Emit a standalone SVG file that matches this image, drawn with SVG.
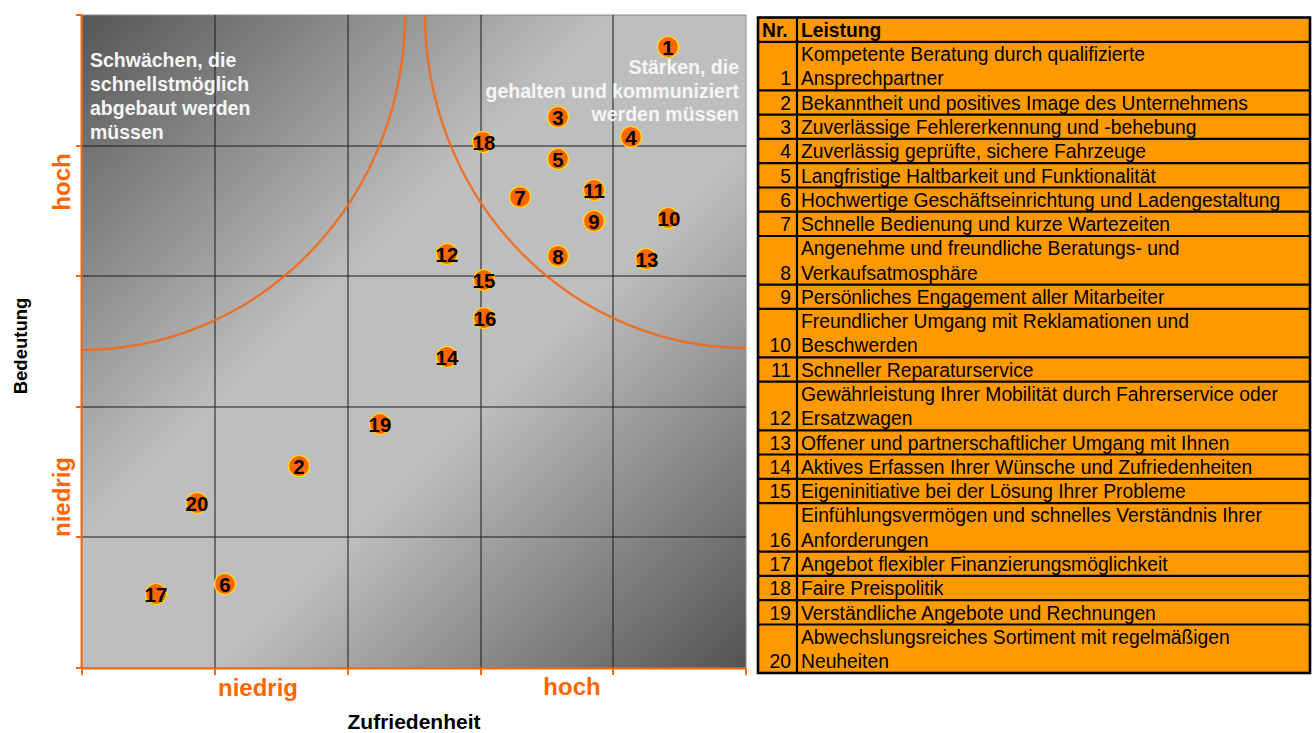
<svg xmlns="http://www.w3.org/2000/svg" width="1313" height="733" viewBox="0 0 1313 733">
<defs>
<linearGradient id="bg" x1="0" y1="0" x2="1" y2="1">
<stop offset="0" stop-color="#565656"/>
<stop offset="0.4" stop-color="#bebebe"/>
<stop offset="0.6" stop-color="#bebebe"/>
<stop offset="1" stop-color="#535353"/>
</linearGradient>
<style>
.grid{stroke:#1a1a1a;stroke-width:1;fill:none}
.axis{stroke:#ff6600;stroke-width:2;fill:none}
.curve{stroke:#f26a1b;stroke-width:2.4;fill:none;opacity:0.9}
.mk circle{fill:#ff6600;stroke:#ffe000;stroke-width:1.2}
.mk text{font-family:"Liberation Sans",Arial,sans-serif;font-weight:bold;font-size:20.5px;fill:#000;text-anchor:middle}
.ql{font-family:"Liberation Sans",Arial,sans-serif;font-weight:bold;font-size:19.5px;fill:#f5f5f5}
.al{font-family:"Liberation Sans",Arial,sans-serif;font-weight:bold;font-size:24px;fill:#ff6600;text-anchor:middle}
.tt{font-family:"Liberation Sans",Arial,sans-serif;font-weight:bold;font-size:18.5px;fill:#000;text-anchor:middle}
.tl{stroke:#000;stroke-width:2.2;fill:none}
.nr{font-family:"Liberation Sans",Arial,sans-serif;font-size:19.3px;fill:#000;text-anchor:end}
.lt{font-family:"Liberation Sans",Arial,sans-serif;font-size:19.3px;fill:#000}
.hd{font-weight:bold}
</style>
</defs>
<rect width="1313" height="733" fill="#ffffff"/>

<g id="plot">
<rect x="82" y="15" width="664" height="653" fill="url(#bg)" stroke="#8a8a8a" stroke-width="1"/>
<g class="grid">
<line x1="215" y1="15" x2="215" y2="668"/>
<line x1="348" y1="15" x2="348" y2="668"/>
<line x1="481" y1="15" x2="481" y2="668"/>
<line x1="613" y1="15" x2="613" y2="668"/>
<line x1="82" y1="146" x2="746" y2="146"/>
<line x1="82" y1="276" x2="746" y2="276"/>
<line x1="82" y1="407" x2="746" y2="407"/>
<line x1="82" y1="537" x2="746" y2="537"/>
</g>
<g class="axis">
<line x1="81.5" y1="15" x2="81.5" y2="669"/>
<line x1="81" y1="668.5" x2="746" y2="668.5"/>
<path d="M76 15H82M76 146H82M76 276H82M76 407H82M76 537H82M76 668H82"/>
<path d="M82 668V675M215 668V675M348 668V675M481 668V675M613 668V675M746 668V675"/>
</g>
</g>

<g id="boundary-curves">
<path class="curve" d="M405 15 A323 335 0 0 1 82 350"/>
<path class="curve" d="M425 15 A321 333 0 0 0 746 348"/>
</g>

<g id="quadrant-labels">
<text class="ql" x="90" y="67">Schwächen, die</text>
<text class="ql" x="90" y="91">schnellstmöglich</text>
<text class="ql" x="90" y="115">abgebaut werden</text>
<text class="ql" x="90" y="139">müssen</text>
<text class="ql" x="739" y="74" text-anchor="end">Stärken, die</text>
<text class="ql" x="739" y="97.5" text-anchor="end">gehalten und kommuniziert</text>
<text class="ql" x="739" y="121" text-anchor="end">werden müssen</text>
</g>

<g id="axis-labels">
<text class="al" x="70" y="182" transform="rotate(-90 70 182)">hoch</text>
<text class="al" x="70" y="497" transform="rotate(-90 70 497)">niedrig</text>
<text class="al" x="258" y="696">niedrig</text>
<text class="al" x="572" y="695">hoch</text>
<text class="tt" x="414" y="729" style="font-size:21px">Zufriedenheit</text>
<text class="tt" x="27" y="346" transform="rotate(-90 27 346)">Bedeutung</text>
</g>

<g id="markers">
<g id="m1" class="mk"><circle cx="668" cy="47" r="10.5"/><text x="668" y="54.5">1</text></g>
<g id="m2" class="mk"><circle cx="299" cy="466" r="10.5"/><text x="299" y="473.5">2</text></g>
<g id="m3" class="mk"><circle cx="558" cy="117" r="10.5"/><text x="558" y="124.5">3</text></g>
<g id="m4" class="mk"><circle cx="631" cy="137" r="10.5"/><text x="631" y="144.5">4</text></g>
<g id="m5" class="mk"><circle cx="558" cy="159" r="10.5"/><text x="558" y="166.5">5</text></g>
<g id="m6" class="mk"><circle cx="225" cy="584" r="10.5"/><text x="225" y="591.5">6</text></g>
<g id="m7" class="mk"><circle cx="520" cy="197" r="10.5"/><text x="520" y="204.5">7</text></g>
<g id="m8" class="mk"><circle cx="558" cy="256" r="10.5"/><text x="558" y="263.5">8</text></g>
<g id="m9" class="mk"><circle cx="594" cy="221" r="10.5"/><text x="594" y="228.5">9</text></g>
<g id="m10" class="mk"><circle cx="668" cy="218" r="10.5"/><text x="669" y="225.5">10</text></g>
<g id="m11" class="mk"><circle cx="594" cy="190" r="10.5"/><text x="594" y="197.5">11</text></g>
<g id="m12" class="mk"><circle cx="447" cy="254" r="10.5"/><text x="447" y="261.5">12</text></g>
<g id="m13" class="mk"><circle cx="646" cy="259" r="10.5"/><text x="647" y="266.5">13</text></g>
<g id="m14" class="mk"><circle cx="447" cy="357" r="10.5"/><text x="447" y="364.5">14</text></g>
<g id="m15" class="mk"><circle cx="484" cy="280" r="10.5"/><text x="484" y="287.5">15</text></g>
<g id="m16" class="mk"><circle cx="484" cy="318" r="10.5"/><text x="485" y="325.5">16</text></g>
<g id="m17" class="mk"><circle cx="156" cy="594" r="10.5"/><text x="156" y="601.5">17</text></g>
<g id="m18" class="mk"><circle cx="483" cy="142" r="10.5"/><text x="484" y="149.5">18</text></g>
<g id="m19" class="mk"><circle cx="380" cy="424" r="10.5"/><text x="380" y="431.5">19</text></g>
<g id="m20" class="mk"><circle cx="197" cy="503" r="10.5"/><text x="197" y="510.5">20</text></g>
</g>

<g id="table">
<rect x="758" y="17.5" width="552" height="655.5" fill="#ff9900"/>
<g class="tl">
<path d="M758 41.8H1310M758 90.3H1310M758 114.6H1310M758 138.9H1310M758 163.2H1310M758 187.5H1310M758 211.7H1310M758 236H1310M758 284.6H1310M758 308.9H1310M758 357.4H1310M758 381.7H1310M758 430.3H1310M758 454.5H1310M758 478.8H1310M758 503.1H1310M758 551.7H1310M758 575.9H1310M758 600.2H1310M758 624.5H1310"/>
<line x1="797" y1="17.5" x2="797" y2="673"/>
<rect x="758" y="17.5" width="552" height="655.5" stroke-width="2.6"/>
</g>
<g id="row-header"><text class="lt hd" x="762" y="36.8">Nr.</text><text class="lt hd" x="801" y="36.8">Leistung</text></g>
<g id="row1"><text class="nr" x="791" y="85.3">1</text><text class="lt" x="801" y="61.1">Kompetente Beratung durch qualifizierte</text><text class="lt" x="801" y="85.3">Ansprechpartner</text></g>
<g id="row2"><text class="nr" x="791" y="109.6">2</text><text class="lt" x="801" y="109.6">Bekanntheit und positives Image des Unternehmens</text></g>
<g id="row3"><text class="nr" x="791" y="133.9">3</text><text class="lt" x="801" y="133.9">Zuverlässige Fehlererkennung und -behebung</text></g>
<g id="row4"><text class="nr" x="791" y="158.2">4</text><text class="lt" x="801" y="158.2">Zuverlässig geprüfte, sichere Fahrzeuge</text></g>
<g id="row5"><text class="nr" x="791" y="182.5">5</text><text class="lt" x="801" y="182.5">Langfristige Haltbarkeit und Funktionalität</text></g>
<g id="row6"><text class="nr" x="791" y="206.7">6</text><text class="lt" x="801" y="206.7">Hochwertige Geschäftseinrichtung und Ladengestaltung</text></g>
<g id="row7"><text class="nr" x="791" y="231">7</text><text class="lt" x="801" y="231">Schnelle Bedienung und kurze Wartezeiten</text></g>
<g id="row8"><text class="nr" x="791" y="279.6">8</text><text class="lt" x="801" y="255.3">Angenehme und freundliche Beratungs- und</text><text class="lt" x="801" y="279.6">Verkaufsatmosphäre</text></g>
<g id="row9"><text class="nr" x="791" y="303.9">9</text><text class="lt" x="801" y="303.9">Persönliches Engagement aller Mitarbeiter</text></g>
<g id="row10"><text class="nr" x="791" y="352.4">10</text><text class="lt" x="801" y="328.1">Freundlicher Umgang mit Reklamationen und</text><text class="lt" x="801" y="352.4">Beschwerden</text></g>
<g id="row11"><text class="nr" x="791" y="376.7">11</text><text class="lt" x="801" y="376.7">Schneller Reparaturservice</text></g>
<g id="row12"><text class="nr" x="791" y="425.3">12</text><text class="lt" x="801" y="401">Gewährleistung Ihrer Mobilität durch Fahrerservice oder</text><text class="lt" x="801" y="425.3">Ersatzwagen</text></g>
<g id="row13"><text class="nr" x="791" y="449.5">13</text><text class="lt" x="801" y="449.5">Offener und partnerschaftlicher Umgang mit Ihnen</text></g>
<g id="row14"><text class="nr" x="791" y="473.8">14</text><text class="lt" x="801" y="473.8">Aktives Erfassen Ihrer Wünsche und Zufriedenheiten</text></g>
<g id="row15"><text class="nr" x="791" y="498.1">15</text><text class="lt" x="801" y="498.1">Eigeninitiative bei der Lösung Ihrer Probleme</text></g>
<g id="row16"><text class="nr" x="791" y="546.7">16</text><text class="lt" x="801" y="522.4">Einfühlungsvermögen und schnelles Verständnis Ihrer</text><text class="lt" x="801" y="546.7">Anforderungen</text></g>
<g id="row17"><text class="nr" x="791" y="570.9">17</text><text class="lt" x="801" y="570.9">Angebot flexibler Finanzierungsmöglichkeit</text></g>
<g id="row18"><text class="nr" x="791" y="595.2">18</text><text class="lt" x="801" y="595.2">Faire Preispolitik</text></g>
<g id="row19"><text class="nr" x="791" y="619.5">19</text><text class="lt" x="801" y="619.5">Verständliche Angebote und Rechnungen</text></g>
<g id="row20"><text class="nr" x="791" y="668.1">20</text><text class="lt" x="801" y="643.8">Abwechslungsreiches Sortiment mit regelmäßigen</text><text class="lt" x="801" y="668.1">Neuheiten</text></g>
</g>
</svg>
